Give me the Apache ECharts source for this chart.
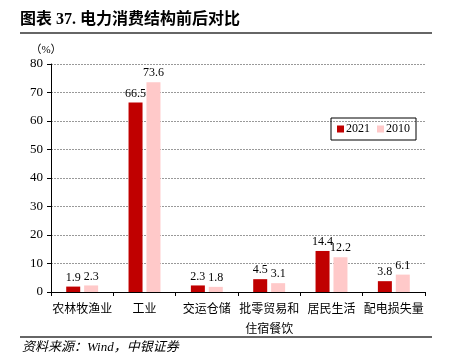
<!DOCTYPE html>
<html>
<head>
<meta charset="utf-8">
<script src="https://cdn.jsdelivr.net/npm/echarts@6/dist/echarts.min.js"></script>
<style>
  html, body { margin: 0; padding: 0; background: #fff; }
  #chart { width: 450px; height: 364px; }
</style>
</head>
<body>
<div id="chart"></div>
<script>
// Power consumption structure, 2021 vs 2010
const categories = ['农林牧渔业', '工业', '交运仓储', '批零贸易和\n住宿餐饮', '居民生活', '配电损失量'];
const values2021 = [1.9, 66.5, 2.3, 4.5, 14.4, 3.8];
const values2010 = [2.3, 73.6, 1.8, 3.1, 12.2, 6.1];
const seriesNames = ['2021', '2010'];

const serif = '"Liberation Serif", "Noto Sans CJK SC", serif';

const chart = echarts.init(document.getElementById('chart'));

const barLabel = {
  show: true,
  position: 'top',
  distance: 3,
  color: '#000',
  fontFamily: serif,
  fontSize: 12
};

chart.setOption({
  animation: false,
  backgroundColor: '#fff',
  grid: { left: 51, right: 25, top: 64, bottom: 72 },
  legend: {
    data: seriesNames,
    left: 331,
    top: 118,
    orient: 'horizontal',
    borderColor: '#000',
    borderWidth: 1,
    padding: [5, 6],
    itemWidth: 7,
    itemHeight: 7,
    itemGap: 7,
    icon: 'rect',
    textStyle: { fontFamily: serif, fontSize: 12, color: '#000', padding: [0, 0, 0, -3] }
  },
  xAxis: {
    type: 'category',
    data: categories,
    axisLine: { lineStyle: { color: '#000', width: 1 } },
    axisTick: { show: true, length: 4, lineStyle: { color: '#000' } },
    axisLabel: {
      color: '#000',
      fontFamily: serif,
      fontSize: 12,
      lineHeight: 20,
      margin: 8,
      interval: 0
    }
  },
  yAxis: {
    type: 'value',
    min: 0,
    max: 80,
    interval: 10,
    name: '（%）',
    nameGap: 8,
    nameTextStyle: { color: '#000', fontFamily: serif, fontSize: 11, align: 'center', padding: [0, 0, 0, -10] },
    axisLine: { show: true, lineStyle: { color: '#000', width: 1 } },
    axisTick: { show: true, length: 4, lineStyle: { color: '#000' } },
    axisLabel: { color: '#000', fontFamily: serif, fontSize: 13, margin: 8 },
    splitLine: { lineStyle: { color: '#999', type: [2, 1], width: 1 } }
  },
  series: [
    {
      name: seriesNames[0],
      type: 'bar',
      data: values2021,
      barWidth: 14,
      barGap: '28%',
      itemStyle: { color: '#c00000' },
      label: barLabel
    },
    {
      name: seriesNames[1],
      type: 'bar',
      data: values2010,
      barWidth: 14,
      itemStyle: { color: '#ffc9c9' },
      label: barLabel
    }
  ],
  graphic: [
    {
      type: 'text',
      left: 20,
      top: 12,
      style: {
        text: '图表 37. 电力消费结构前后对比',
        font: 'bold 16px "Liberation Serif", "Noto Sans CJK SC", serif',
        fill: '#000'
      }
    },
    {
      type: 'line',
      shape: { x1: 20, y1: 33, x2: 432, y2: 33 },
      style: { stroke: '#333', lineWidth: 1.5 }
    },
    {
      type: 'line',
      shape: { x1: 20, y1: 337, x2: 432, y2: 337 },
      style: { stroke: '#333', lineWidth: 1.5 }
    },
    {
      type: 'text',
      left: 22,
      top: 341,
      style: {
        text: '资料来源：Wind，中银证券',
        font: 'italic 13px "Liberation Serif", "Noto Sans CJK SC", serif',
        fill: '#000'
      }
    }
  ]
});
</script>
</body>
</html>
